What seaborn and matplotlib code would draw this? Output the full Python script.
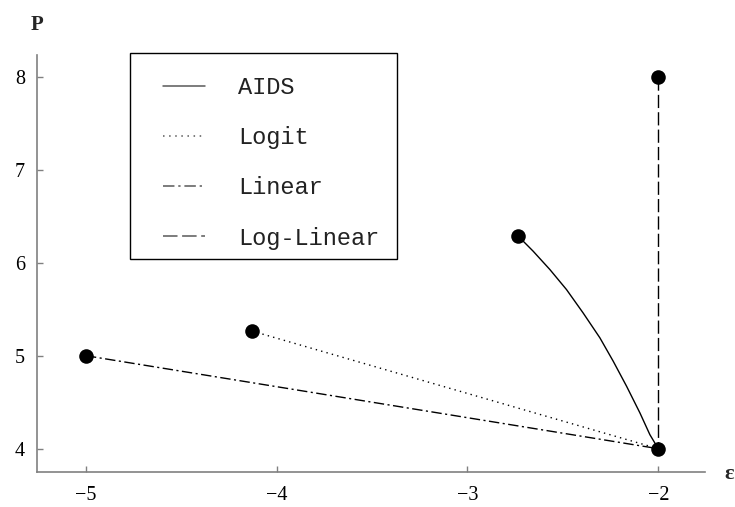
import matplotlib
matplotlib.use("Agg")
import matplotlib.pyplot as plt
from matplotlib.lines import Line2D
from matplotlib.patches import Rectangle
import numpy as np
import pandas as pd
import seaborn as sns

# Price P against elasticity epsilon for four demand specifications
aids_eps = [-2.734, -2.656, -2.568, -2.481, -2.394, -2.306, -2.236,
            -2.166, -2.096, -2.044, -2.0]
aids_p = [6.285, 6.124, 5.926, 5.711, 5.460, 5.192, 4.940,
          4.671, 4.384, 4.151, 4.0]
logit_eps = [-4.131, -2.0]
logit_p = [5.266, 4.0]
linear_eps = [-5.0, -2.0]
linear_p = [5.0, 4.0]
loglinear_eps = [-2.0, -2.0]
loglinear_p = [8.0, 4.0]

models = ["AIDS", "Logit", "Linear", "Log-Linear"]
x_ticks = [-5, -4, -3, -2]
y_ticks = [4, 5, 6, 7, 8]

series = {
    "AIDS": (aids_eps, aids_p),
    "Logit": (logit_eps, logit_p),
    "Linear": (linear_eps, linear_p),
    "Log-Linear": (loglinear_eps, loglinear_p),
}
frames = []
for name, (xs, ys) in series.items():
    frames.append(pd.DataFrame({"eps": xs, "P": ys, "model": name,
                                "order": np.arange(len(xs))}))
df = pd.concat(frames, ignore_index=True)

# endpoints marked with dots
ends = pd.DataFrame({
    "eps": [aids_eps[0], logit_eps[0], linear_eps[0], loglinear_eps[0], aids_eps[-1]],
    "P": [aids_p[0], logit_p[0], linear_p[0], loglinear_p[0], aids_p[-1]],
})

dash_map = {
    "AIDS": "",
    "Logit": (1.0, 3.0),
    "Linear": (7.5, 2.5, 1.5, 2.5),
    "Log-Linear": (9.5, 3.0),
}

sns.set_style("ticks")
plt.rcParams["font.family"] = ["Liberation Serif", "DejaVu Serif"]

W, H = 735, 507
fig = plt.figure(figsize=(W / 100, H / 100), dpi=100)
ax = fig.add_axes([0.0507, 0.0684, 0.9085, 0.8231])

sns.lineplot(data=df, x="eps", y="P", style="model", style_order=models,
             dashes=dash_map, units="model", estimator=None, sort=False,
             color="black", linewidth=1.0, legend=False, ax=ax)
sns.scatterplot(data=ends, x="eps", y="P", color="black", s=110,
                edgecolor="black", linewidth=0, zorder=5, ax=ax)

ax.set_xlim(-5.255, -1.755)
ax.set_ylim(3.746, 8.233)
ax.set_xticks(x_ticks)
ax.set_yticks(y_ticks)
ax.set_xticklabels([f"\u2212{abs(v)}" for v in x_ticks])
ax.set_yticklabels([str(v) for v in y_ticks])
ax.set_xlabel("")
ax.set_ylabel("")
sns.despine(ax=ax)
for side in ("left", "bottom"):
    ax.spines[side].set_color("0.5")
    ax.spines[side].set_linewidth(1.2)
ax.tick_params(axis="both", direction="in", length=4, width=1, color="0.5",
               labelsize=14.5, labelcolor="black")
ax.tick_params(axis="x", pad=10)
ax.tick_params(axis="y", pad=9)

fig.text(37 / W, 1 - 25 / H, "P", fontsize=15, fontweight="bold",
         ha="center", va="center")
fig.text(729 / W, 1 - 474 / H, "\u03b5", fontsize=16, fontweight="bold",
         ha="center", va="center")

# legend entries without their own frame, boxed by a separate rectangle
handles = [Line2D([], [], color="0.35", linewidth=1.1,
                  linestyle=(0, dash_map[m]) if dash_map[m] else "-")
           for m in models]
leg = ax.legend(handles, models, loc="upper left",
                bbox_to_anchor=(130 / W, 1 - 43 / H),
                bbox_transform=fig.transFigure, borderaxespad=0,
                frameon=False,
                prop={"family": "Liberation Mono", "size": 17},
                handlelength=1.78, handletextpad=1.4, labelspacing=1.15,
                borderpad=1.4)
for t in leg.get_texts():
    t.set_color("#222222")

box = Rectangle((130 / W, 1 - 259 / H), (397 - 130) / W, (259 - 53) / H,
                transform=fig.transFigure, fill=False, edgecolor="black",
                linewidth=1.0, zorder=6)
fig.add_artist(box)

fig.savefig("out.png", dpi=100, facecolor="white")
